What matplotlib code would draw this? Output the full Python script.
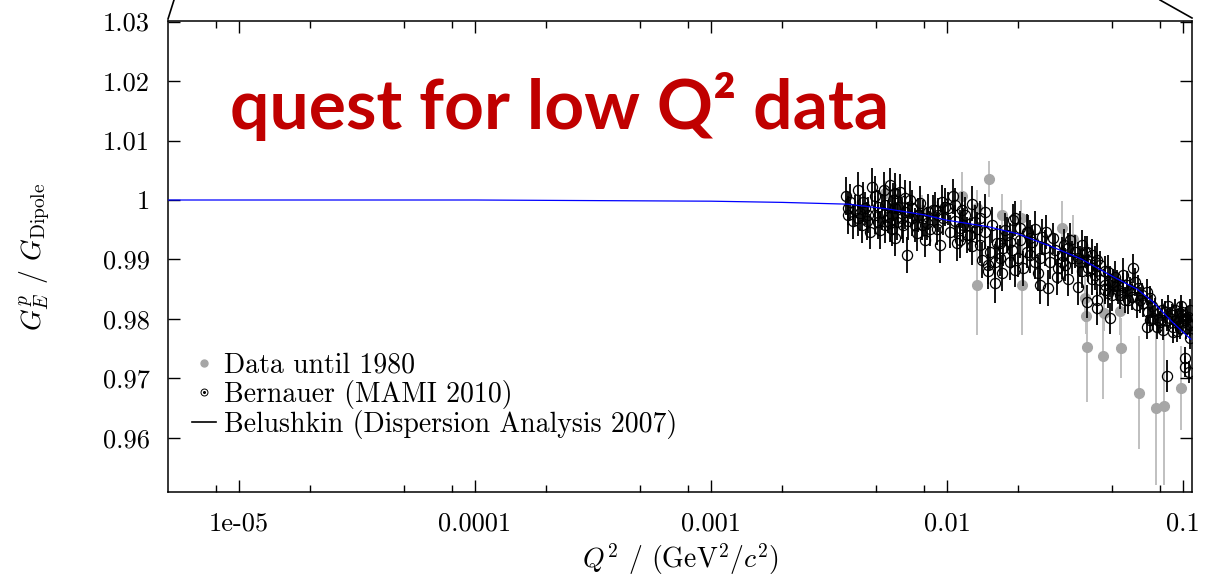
import matplotlib
matplotlib.use("Agg")
import matplotlib.pyplot as plt
from matplotlib.lines import Line2D
from matplotlib.ticker import FixedLocator, NullFormatter

# ---------------- data ----------------
# Belushkin dispersion analysis curve (Q^2 in GeV^2/c^2, ratio G_E^p / G_Dipole)
curve_q2 = [5e-6, 1e-5, 1e-4, 1e-3, 0.002, 0.0038, 0.0056, 0.008, 0.01, 0.015,
            0.02, 0.028, 0.037, 0.05, 0.064, 0.0745, 0.09, 0.1, 0.108]
curve_ratio = [1.0, 1.0, 1.0, 0.9998, 0.9996, 0.9993, 0.9985, 0.9975, 0.9966, 0.9955,
               0.9943, 0.9921, 0.9901, 0.9872, 0.9850, 0.9829, 0.9795, 0.9778, 0.9766]

# Data until 1980
old_q2 = [0.00546, 0.00784, 0.0116, 0.0134, 0.0134, 0.01506, 0.0171, 0.0208, 0.0205,
          0.0307, 0.0342, 0.0385, 0.0388, 0.0392, 0.0458, 0.0462, 0.054, 0.0546,
          0.065, 0.0768, 0.0831, 0.098]
old_ratio = [1.0012, 0.9983, 1.0007, 0.9987, 0.9857, 1.0035, 0.9975, 0.9857, 0.9970,
             0.9953, 0.9934, 0.9835, 0.9805, 0.9753, 0.9738, 0.9810, 0.9813, 0.9751,
             0.9676, 0.9650, 0.9654, 0.9684]
old_err = [0.0020, 0.0025, 0.0040, 0.0030, 0.0084, 0.0030, 0.0035, 0.0084, 0.0030,
           0.0045, 0.0040, 0.0040, 0.0030, 0.0092, 0.0073, 0.0030, 0.0040, 0.0050,
           0.0095, 0.0130, 0.0134, 0.0070]

# Bernauer (MAMI 2010)
bern_q2 = [0.00388, 0.00382, 0.00382, 0.00401, 0.00407, 0.00428, 0.00442, 0.0045, 0.00464,
           0.00457, 0.00472, 0.00495, 0.00511, 0.00495, 0.00529, 0.00546, 0.00564, 0.00573,
           0.00583, 0.00602, 0.00602, 0.00592, 0.00622, 0.00643, 0.00653, 0.00664, 0.00686,
           0.00709, 0.00732, 0.00744, 0.00781, 0.0082, 0.00847, 0.00875, 0.00675, 0.00546,
           0.0051, 0.00585, 0.00614, 0.00711, 0.00754, 0.00791,
           0.01063, 0.0095, 0.00889, 0.00981, 0.0101, 0.01154, 0.01272, 0.00904, 0.00934,
           0.0110, 0.01272, 0.01172, 0.0138, 0.01449, 0.01496, 0.01496, 0.01597, 0.01705,
           0.01677, 0.01849, 0.0191, 0.01941, 0.02177, 0.02005, 0.02105, 0.02177, 0.01624,
           0.01521, 0.0103, 0.01212, 0.01336, 0.01791, 0.01732, 0.01081, 0.00964,
           0.0236, 0.02211, 0.0252, 0.0282, 0.0332, 0.0391, 0.0431, 0.0244, 0.0248,
           0.0269, 0.0292, 0.0316, 0.036, 0.0391, 0.0431, 0.0431, 0.0491, 0.0483,
           0.0524, 0.0558, 0.0349, 0.0306, 0.026, 0.02285, 0.0467, 0.041, 0.0327,
           0.0372, 0.0499,
           0.0385, 0.0391, 0.0424, 0.0467, 0.0483, 0.0515, 0.0615, 0.0586, 0.0646,
           0.0702, 0.0679, 0.0737, 0.0724, 0.0774, 0.0812, 0.0853, 0.0896, 0.0941,
           0.0971, 0.1, 0.1053, 0.1071, 0.102, 0.102, 0.1065, 0.0858, 0.0702, 0.0786,
           0.091, 0.0491, 0.0557, 0.0606, 0.0864, 0.0925, 0.0953, 0.103, 0.1071,
           0.0823, 0.0746, 0.1053, 0.0981,
           0.0273, 0.0295, 0.0339, 0.0366, 0.0411, 0.0445, 0.0313, 0.0225, 0.01849,
           0.01597, 0.0138, 0.01135, 0.0204, 0.053, 0.0579, 0.0657, 0.0626,
           0.00373, 0.0042, 0.00481, 0.00541, 0.00573, 0.00632, 0.00697, 0.00769,
           0.0083, 0.00916, 0.00436, 0.0052, 0.00602, 0.00807, 0.0042, 0.00664,
           0.0108, 0.01192, 0.01315, 0.01449, 0.01552, 0.01761, 0.01885, 0.0204,
           0.0225, 0.0248, 0.0263, 0.01135, 0.01252, 0.01677, 0.01941, 0.0236, 0.01407,
           0.0287, 0.0306, 0.0327, 0.036, 0.0396, 0.0424, 0.0445, 0.0467, 0.0505,
           0.0541, 0.0568, 0.0596, 0.0638, 0.067, 0.0711, 0.0761, 0.08, 0.0839,
           0.0881, 0.0934, 0.099, 0.103, 0.1071, 0.0905, 0.0971, 0.0724, 0.0372, 0.0411]
bern_ratio = [0.9997, 0.9986, 0.9975, 0.9964, 0.9983, 0.9978, 0.9997, 0.9986, 0.9975,
              0.9964, 0.9947, 1.0006, 0.9989, 0.9975, 0.9980, 0.9992, 0.9972, 0.9961,
              0.9952, 1.0011, 0.9986, 1.0000, 0.9989, 0.9969, 0.9958, 0.9980, 0.9964,
              0.9969, 0.9958, 0.9944, 0.9958, 0.9961, 0.9952, 0.9983, 0.9908, 0.9958,
              0.9963, 0.9975, 0.9963, 0.9987, 0.9975, 0.9970,
              1.0006, 0.9997, 0.9983, 0.9989, 0.9986, 0.9983, 0.9994, 0.9952, 0.9924,
              0.9927, 0.9922, 0.9958, 0.9969, 0.9947, 0.9891, 0.9880, 0.9860, 0.9877,
              0.9902, 0.9930, 0.9966, 0.9969, 0.9947, 0.9902, 0.9885, 0.9913, 0.9927,
              0.9913, 0.9947, 0.9941, 0.9952, 0.9941, 0.9919, 0.9964, 0.9969,
              0.9952, 0.9947, 0.9938, 0.9936, 0.9933, 0.9913, 0.9899, 0.9877, 0.9857,
              0.9852, 0.9871, 0.9891, 0.9854, 0.9829, 0.9832, 0.9818, 0.9801, 0.9879,
              0.9857, 0.9874, 0.9913, 0.9908, 0.9919, 0.9930, 0.9857, 0.9868, 0.9868,
              0.9880, 0.9840,
              0.9913, 0.9899, 0.9896, 0.9880, 0.9843, 0.9871, 0.9885, 0.9832, 0.9852,
              0.9846, 0.9826, 0.9821, 0.9798, 0.9787, 0.9815, 0.9798, 0.9807, 0.9779,
              0.9810, 0.9798, 0.9804, 0.9768, 0.9734, 0.9720, 0.9711, 0.9704, 0.9787,
              0.9798, 0.9787, 0.9863, 0.9854, 0.9837, 0.9822, 0.9815, 0.9795, 0.9785,
              0.9815, 0.9782, 0.9802, 0.9792, 0.9822,
              0.9896, 0.9886, 0.9903, 0.9896, 0.9886, 0.9866, 0.9924, 0.9908, 0.9896,
              0.9896, 0.9924, 0.9933, 0.9933, 0.9849, 0.9857, 0.9832, 0.9862,
              1.0007, 1.0017, 1.0022, 1.0017, 1.0025, 1.0013, 1.0000, 0.9995,
              0.9980, 0.9975, 0.9958, 0.9950, 0.9936, 0.9933, 0.9970, 1.0003,
              0.9992, 0.9975, 0.9963, 0.9980, 0.9958, 0.9950, 0.9916, 0.9953,
              0.9936, 0.9903, 0.9946, 0.9953, 0.9941, 0.9928, 0.9882, 0.9896, 0.9899,
              0.9916, 0.9896, 0.9919, 0.9903, 0.9886, 0.9874, 0.9891, 0.9849, 0.9862,
              0.9840, 0.9832, 0.9849, 0.9824, 0.9840, 0.9812, 0.9815, 0.9795, 0.9812,
              0.9802, 0.9798, 0.9812, 0.9802, 0.9790, 0.9778, 0.9785, 0.9835, 0.9924, 0.9908]
bern_err = [0.0030, 0.0028, 0.0032, 0.0030, 0.0026, 0.0030, 0.0034, 0.0028, 0.0030,
            0.0032, 0.0030, 0.0034, 0.0028, 0.0032, 0.0030, 0.0034, 0.0028, 0.0032,
            0.0030, 0.0034, 0.0032, 0.0028, 0.0030, 0.0034, 0.0030, 0.0028, 0.0032,
            0.0030, 0.0028, 0.0030, 0.0026, 0.0028, 0.0030, 0.0026, 0.0030, 0.0030,
            0.0028, 0.0032, 0.0030, 0.0030, 0.0028, 0.0030,
            0.0030, 0.0028, 0.0030, 0.0032, 0.0028, 0.0030, 0.0030, 0.0028, 0.0030,
            0.0030, 0.0032, 0.0028, 0.0030, 0.0030, 0.0032, 0.0030, 0.0034, 0.0030,
            0.0030, 0.0032, 0.0028, 0.0030, 0.0030, 0.0032, 0.0030, 0.0028, 0.0030,
            0.0030, 0.0028, 0.0030, 0.0028, 0.0030, 0.0030, 0.0028, 0.0028,
            0.0030, 0.0028, 0.0030, 0.0026, 0.0028, 0.0026, 0.0028, 0.0030, 0.0032,
            0.0030, 0.0030, 0.0028, 0.0030, 0.0028, 0.0026, 0.0028, 0.0026, 0.0028,
            0.0026, 0.0028, 0.0028, 0.0030, 0.0030, 0.0028, 0.0026, 0.0028, 0.0030,
            0.0028, 0.0026,
            0.0026, 0.0028, 0.0026, 0.0026, 0.0024, 0.0026, 0.0024, 0.0024, 0.0022,
            0.0022, 0.0022, 0.0020, 0.0020, 0.0020, 0.0018, 0.0018, 0.0018, 0.0018,
            0.0018, 0.0018, 0.0018, 0.0018, 0.0018, 0.0018, 0.0018, 0.0027, 0.0020,
            0.0020, 0.0018, 0.0026, 0.0024, 0.0022, 0.0018, 0.0018, 0.0018, 0.0018,
            0.0018, 0.0018, 0.0020, 0.0018, 0.0018,
            0.0028, 0.0028, 0.0028, 0.0026, 0.0026, 0.0026, 0.0028, 0.0030, 0.0030,
            0.0030, 0.0030, 0.0030, 0.0030, 0.0024, 0.0024, 0.0022, 0.0024,
            0.0032, 0.0030, 0.0032, 0.0030, 0.0028, 0.0030, 0.0032, 0.0028,
            0.0030, 0.0028, 0.0030, 0.0032, 0.0030, 0.0028, 0.0030, 0.0030,
            0.0028, 0.0030, 0.0028, 0.0030, 0.0030, 0.0028, 0.0030, 0.0028,
            0.0030, 0.0028, 0.0028, 0.0030, 0.0028, 0.0030, 0.0028, 0.0028, 0.0030,
            0.0026, 0.0028, 0.0026, 0.0026, 0.0024, 0.0026, 0.0024, 0.0024, 0.0022,
            0.0024, 0.0022, 0.0022, 0.0022, 0.0020, 0.0020, 0.0020, 0.0018, 0.0018,
            0.0018, 0.0018, 0.0018, 0.0018, 0.0018, 0.0018, 0.0018, 0.0020, 0.0026, 0.0026]

x_major = [1e-5, 1e-4, 1e-3, 1e-2, 1e-1]
x_major_labels = ["1e-05", "0.0001", "0.001", "0.01", "0.1"]
x_minor = [8e-6, 2e-5, 5e-5, 8e-5, 2e-4, 5e-4, 8e-4, 2e-3, 5e-3, 8e-3, 2e-2, 5e-2, 8e-2]
y_major = [0.96, 0.97, 0.98, 0.99, 1.0, 1.01, 1.02, 1.03]
y_major_labels = ["0.96", "0.97", "0.98", "0.99", "1", "1.01", "1.02", "1.03"]

legend_labels = ["Data until 1980", "Bernauer (MAMI 2010)",
                 "Belushkin (Dispersion Analysis 2007)"]
title_text = "quest for low Q\u00b2 data"

# ---------------- style ----------------
plt.rcParams["font.family"] = "cmr10"
plt.rcParams["mathtext.fontset"] = "cm"
plt.rcParams["axes.unicode_minus"] = False
plt.rcParams["axes.formatter.use_mathtext"] = True

W, H = 1217, 583
fig = plt.figure(figsize=(W / 100, H / 100), dpi=100)
ax_l, ax_r, ax_t, ax_b = 168, 1192, 21, 492
ax = fig.add_axes([ax_l / W, 1 - ax_b / H, (ax_r - ax_l) / W, (ax_b - ax_t) / H])

gray_pt = "#a6a6a6"
gray_bar = "#c0c0c0"

ax.errorbar(old_q2, old_ratio, yerr=old_err, fmt="o", ms=7, color=gray_pt,
            ecolor=gray_bar, elinewidth=1.4, capsize=0, zorder=1)
ax.errorbar(bern_q2, bern_ratio, yerr=bern_err, fmt="o", ms=7.3, mfc="none",
            mec="black", mew=0.9, ecolor="black", elinewidth=1.3, capsize=0, zorder=2)
ax.plot(curve_q2, curve_ratio, color="#0000ff", lw=0.9, zorder=3)

ax.set_xscale("log")
ax.set_xlim(5.0e-6, 0.1092)
ax.set_ylim(0.9509, 1.0301)

ax.xaxis.set_major_locator(FixedLocator(x_major))
ax.set_xticklabels(x_major_labels)
ax.xaxis.set_minor_locator(FixedLocator(x_minor))
ax.xaxis.set_minor_formatter(NullFormatter())
ax.set_yticks(y_major)
ax.set_yticklabels(y_major_labels)

ax.tick_params(which="both", direction="in", top=True, right=True, width=1.0,
               labelsize=19, colors="black")
ax.tick_params(which="major", length=8.6)
ax.tick_params(which="minor", length=5)
ax.tick_params(axis="x", pad=14)
ax.tick_params(axis="y", pad=13)
for s in ax.spines.values():
    s.set_linewidth(1.1)

ax.set_ylabel(r"$G_E^p$ / $G_{\mathrm{Dipole}}$", fontsize=20)
ax.yaxis.set_label_coords((52 - ax_l) / (ax_r - ax_l), 0.5)
ax.set_xlabel(r"$Q^2$ / (GeV$^2$/$c^2$)", fontsize=20)
ax.xaxis.set_label_coords(0.5, -(541 - ax_b) / (ax_b - ax_t))

# title
ax.text((230 - ax_l) / (ax_r - ax_l), (ax_b - 129) / (ax_b - ax_t), title_text,
        transform=ax.transAxes, family=["Lato", "DejaVu Sans"],
        fontweight="bold", fontsize=50, color="#c00000", va="baseline", ha="left")

# legend
h_old = Line2D([], [], ls="none", marker="o", ms=5, color=gray_pt)
h_b1 = Line2D([], [], ls="none", marker="o", ms=5, mfc="none", mec="black", mew=0.7)
h_b2 = Line2D([], [], ls="none", marker="o", ms=1.2, color="black")
h_curve = Line2D([], [], color="black", lw=1.2)
ax.legend([h_old, (h_b1, h_b2), h_curve], legend_labels, loc="upper left",
          bbox_to_anchor=((192 - ax_l) / (ax_r - ax_l), (ax_b - 352) / (ax_b - ax_t)),
          frameon=False, fontsize=20, handlelength=0.85, handletextpad=0.3,
          labelspacing=0.05, borderpad=0, borderaxespad=0)

# zoom callout lines above the frame
fig.add_artist(Line2D([168 / W, 174 / W], [1 - 19 / H, 1.0], transform=fig.transFigure,
                      color="black", lw=1.2))
fig.add_artist(Line2D([1160 / W, 1192 / W], [1.0, 1 - 18 / H], transform=fig.transFigure,
                      color="black", lw=1.2))

fig.savefig("out.png", dpi=100)
